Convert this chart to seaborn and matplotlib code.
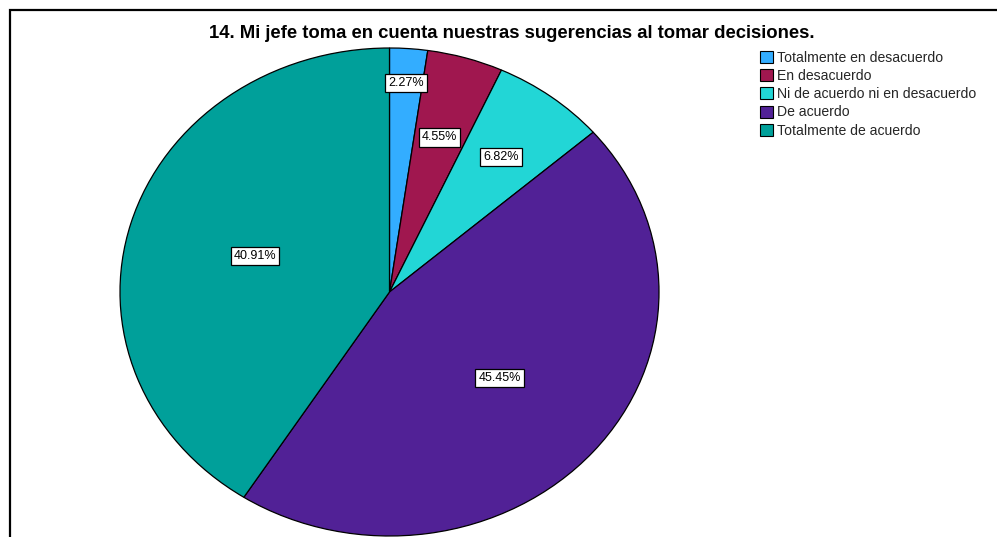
import numpy as np
import matplotlib
matplotlib.use("Agg")
import matplotlib.pyplot as plt
from matplotlib.patches import Rectangle, Patch
import seaborn as sns

# Survey item and response distribution
title = "14. Mi jefe toma en cuenta nuestras sugerencias al tomar decisiones."
categories = [
    "Totalmente en desacuerdo",
    "En desacuerdo",
    "Ni de acuerdo ni en desacuerdo",
    "De acuerdo",
    "Totalmente de acuerdo",
]
percentages = [2.27, 4.55, 6.82, 45.45, 40.91]
colors = ["#33adff", "#a0174f", "#22d6d6", "#512196", "#00a09a"]

sns.set_theme(style="white")
plt.rcParams["font.family"] = ["Liberation Sans", "DejaVu Sans"]

W, H = 997, 537
fig = plt.figure(figsize=(W / 100, H / 100), dpi=100)

# Axes spanning the (elliptical) pie: x 120..659 px, y 48..536 px
left_px, right_px, top_px, bottom_px = 120, 659, 48, 536
ax = fig.add_axes([left_px / W, 1 - bottom_px / H,
                   (right_px - left_px) / W, (bottom_px - top_px) / H])

palette = sns.color_palette(colors)
wedges, _ = ax.pie(
    percentages,
    colors=palette,
    startangle=90,
    counterclock=False,
    radius=1.0,
    wedgeprops=dict(edgecolor="black", linewidth=0.9),
)
ax.set_aspect("auto")
ax.set_xlim(-1, 1)
ax.set_ylim(-1, 1)
ax.axis("off")

# Percentage labels in boxes, placed along each wedge's mid-angle
label_radius = [0.86, 0.66, 0.69, 0.54, 0.52]
for w, pct, r in zip(wedges, percentages, label_radius):
    ang = np.deg2rad((w.theta1 + w.theta2) / 2)
    ax.text(r * np.cos(ang), r * np.sin(ang), f"{pct:.2f}%",
            ha="center", va="center", fontsize=9, color="black",
            bbox=dict(boxstyle="square,pad=0.25", facecolor="white",
                      edgecolor="black", linewidth=0.9))

# Title
fig.text(512 / W, 1 - 34 / H, title, ha="center", va="center",
         fontsize=13.3, fontweight="bold", color="black")

# Legend
handles = [Patch(facecolor=c, edgecolor="black", linewidth=0.8) for c in palette]
fig.legend(handles, categories, loc="upper left",
           bbox_to_anchor=(757 / W, 1 - 48 / H), frameon=False,
           fontsize=10.1, handlelength=0.95, handleheight=0.95,
           handletextpad=0.3, labelspacing=0.3, borderpad=0.2,
           borderaxespad=0)

# Outer frame (top and left edges visible, extending past the canvas)
frame = Rectangle((10 / W, -0.2), 1.2, 1.2 - 10 / H,
                  transform=fig.transFigure, fill=False,
                  edgecolor="black", linewidth=1.6, zorder=10)
fig.patches.append(frame)

fig.savefig("out.png", dpi=100)
